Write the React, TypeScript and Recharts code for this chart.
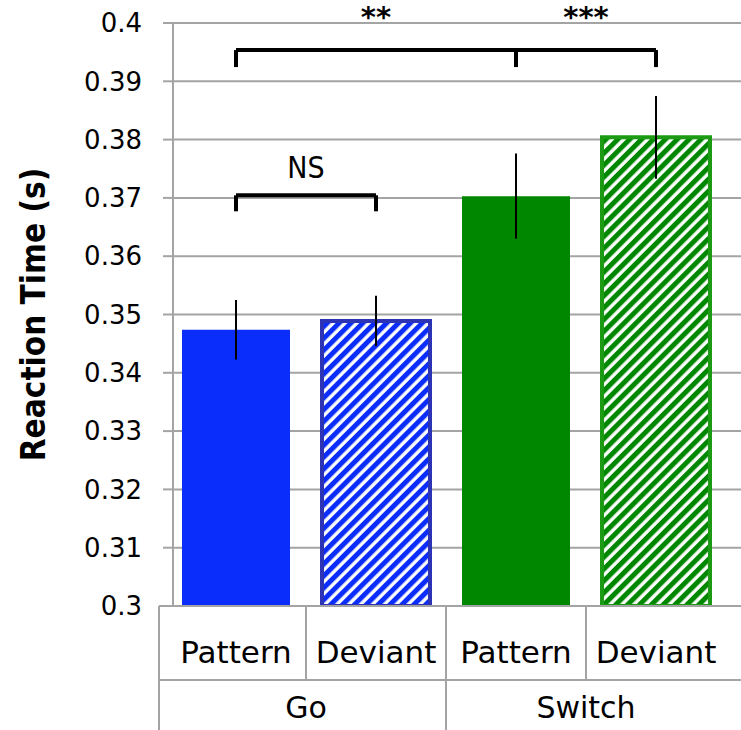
import { BarChart, Bar, XAxis, YAxis, CartesianGrid, ErrorBar, Cell, ReferenceLine } from 'recharts';

const ids = ['Go Pattern', 'Go Deviant', 'Switch Pattern', 'Switch Deviant'];
const groups = ['Go', 'Go', 'Switch', 'Switch'];
const conditions = ['Pattern', 'Deviant', 'Pattern', 'Deviant'];
const meanRT = [0.3474, 0.3489, 0.3703, 0.3804];
const semRT = [0.0051, 0.0043, 0.0073, 0.0071];
const yTicks = [0.3, 0.31, 0.32, 0.33, 0.34, 0.35, 0.36, 0.37, 0.38, 0.39, 0.4];

const fills = ['#0b2dfc', 'url(#hatchBlue)', '#008700', 'url(#hatchGreen)'];
const strokes = ['none', '#2d33b5', 'none', '#1c9a14'];

// significance brackets (y values on the RT axis)
const bracketY = 0.39536;
const bracketLeg = 0.39244;
const nsY = 0.37045;
const nsLeg = 0.3677;

const data = ids.map((id, i) => ({ id, rt: meanRT[i], err: semRT[i] }));

const GRID = '#a4a4a4';
const PAD_L = -7;
const PAD_R = 15;
const HALF = 70;
const HATCH = 8.4;

function TableTick(props: any) {
  const { x, y, index } = props;
  const group = groups[index];
  const firstOfGroup = index === 0 || groups[index - 1] !== group;
  const last = index === ids.length - 1;
  const left = index === 0 ? x - HALF + PAD_L : x - HALF;
  const right = last ? x + HALF + PAD_R : x + HALF;
  const count = groups.filter((g) => g === group).length;
  const rowH = 74;
  return (
    <g>
      <line x1={left} x2={right} y1={y} y2={y} stroke={GRID} strokeWidth={2} />
      <line x1={left} x2={right} y1={y + rowH} y2={y + rowH} stroke={GRID} strokeWidth={2} />
      <line x1={left} x2={left} y1={y} y2={firstOfGroup ? y + 130 : y + rowH} stroke={GRID} strokeWidth={2} />
      <text x={x} y={y + 57} textAnchor="middle" fontSize={31} fontFamily="DejaVu Sans" fill="#000">
        {conditions[index]}
      </text>
      {firstOfGroup && (
        <text
          x={x - HALF + count * HALF}
          y={y + 112}
          textAnchor="middle"
          fontSize={30}
          fontFamily="DejaVu Sans"
          fill="#000"
        >
          {group}
        </text>
      )}
    </g>
  );
}

function YTitle(props: any) {
  const { viewBox } = props;
  const cy = viewBox.y + viewBox.height / 2;
  const cx = 45;
  return (
    <text
      x={cx}
      y={cy}
      transform={`rotate(-90 ${cx} ${cy})`}
      textAnchor="middle"
      fontSize={33}
      fontWeight={700}
      fontFamily="DejaVu Sans Condensed"
      fill="#000"
    >
      Reaction Time (s)
    </text>
  );
}

const bracketStyle = { stroke: '#000', strokeWidth: 4 };
const starLabel = (value: string, offset: number, family: string, weight: number, size: number) => ({
  value,
  position: 'top' as const,
  offset,
  fill: '#000',
  fontSize: size,
  fontWeight: weight,
  fontFamily: family,
});

export default function App() {
  return (
    <div style={{ width: 741, height: 730 }}>
      <style>{'body{margin:0}'}</style>
      <BarChart width={741} height={730} data={data} margin={{ top: 23, right: 0, left: 0, bottom: 0 }}>
        <defs>
          <pattern id="hatchBlue" patternUnits="userSpaceOnUse" width={HATCH} height={HATCH} patternTransform="rotate(45)">
            <rect width={HATCH} height={HATCH} fill="#0b2dfc" />
            <line x1={2} x2={2} y1={0} y2={HATCH} stroke="#fff" strokeWidth={3.4} />
          </pattern>
          <pattern id="hatchGreen" patternUnits="userSpaceOnUse" width={HATCH} height={HATCH} patternTransform="rotate(45)">
            <rect width={HATCH} height={HATCH} fill="#008700" />
            <line x1={2} x2={2} y1={0} y2={HATCH} stroke="#fff" strokeWidth={3.4} />
          </pattern>
        </defs>
        <CartesianGrid vertical={false} stroke={GRID} strokeWidth={2} />
        <XAxis
          dataKey="id"
          height={124}
          padding={{ left: PAD_L, right: PAD_R }}
          axisLine={false}
          tickLine={false}
          tickSize={0}
          tickMargin={0}
          interval={0}
          tick={<TableTick />}
        />
        <YAxis
          width={173}
          domain={[0.3, 0.4]}
          ticks={yTicks}
          interval={0}
          allowDataOverflow
          axisLine={{ stroke: GRID, strokeWidth: 2 }}
          tickLine={{ stroke: GRID, strokeWidth: 2 }}
          tickSize={10}
          tickMargin={21}
          tick={{ fontSize: 26, fill: '#000', fontFamily: 'DejaVu Sans' }}
          tickFormatter={(v: number) => String(Number(v.toFixed(2)))}
          label={<YTitle />}
        />
        <Bar dataKey="rt" barSize={108} isAnimationActive={false}>
          {data.map((d, i) => (
            <Cell key={d.id} fill={fills[i]} stroke={strokes[i]} strokeWidth={strokes[i] === 'none' ? 0 : 4} />
          ))}
          <ErrorBar dataKey="err" width={0} stroke="#000" strokeWidth={2} />
        </Bar>

        <ReferenceLine
          segment={[{ x: ids[0], y: bracketY }, { x: ids[2], y: bracketY }]}
          ifOverflow="visible"
          {...bracketStyle}
          label={starLabel('**', 23, 'DejaVu Sans', 700, 29)}
        />
        <ReferenceLine
          segment={[{ x: ids[2], y: bracketY }, { x: ids[3], y: bracketY }]}
          ifOverflow="visible"
          {...bracketStyle}
          label={starLabel('***', 23, 'DejaVu Sans', 700, 29)}
        />
        {[0, 2, 3].map((i) => (
          <ReferenceLine
            key={`leg${i}`}
            segment={[{ x: ids[i], y: bracketY }, { x: ids[i], y: bracketLeg }]}
            ifOverflow="visible"
            {...bracketStyle}
          />
        ))}
        <ReferenceLine
          segment={[{ x: ids[0], y: nsY }, { x: ids[1], y: nsY }]}
          ifOverflow="visible"
          {...bracketStyle}
          label={starLabel('NS', 17, 'DejaVu Sans Condensed', 400, 30)}
        />
        {[0, 1].map((i) => (
          <ReferenceLine
            key={`nsleg${i}`}
            segment={[{ x: ids[i], y: nsY }, { x: ids[i], y: nsLeg }]}
            ifOverflow="visible"
            {...bracketStyle}
          />
        ))}
      </BarChart>
    </div>
  );
}
